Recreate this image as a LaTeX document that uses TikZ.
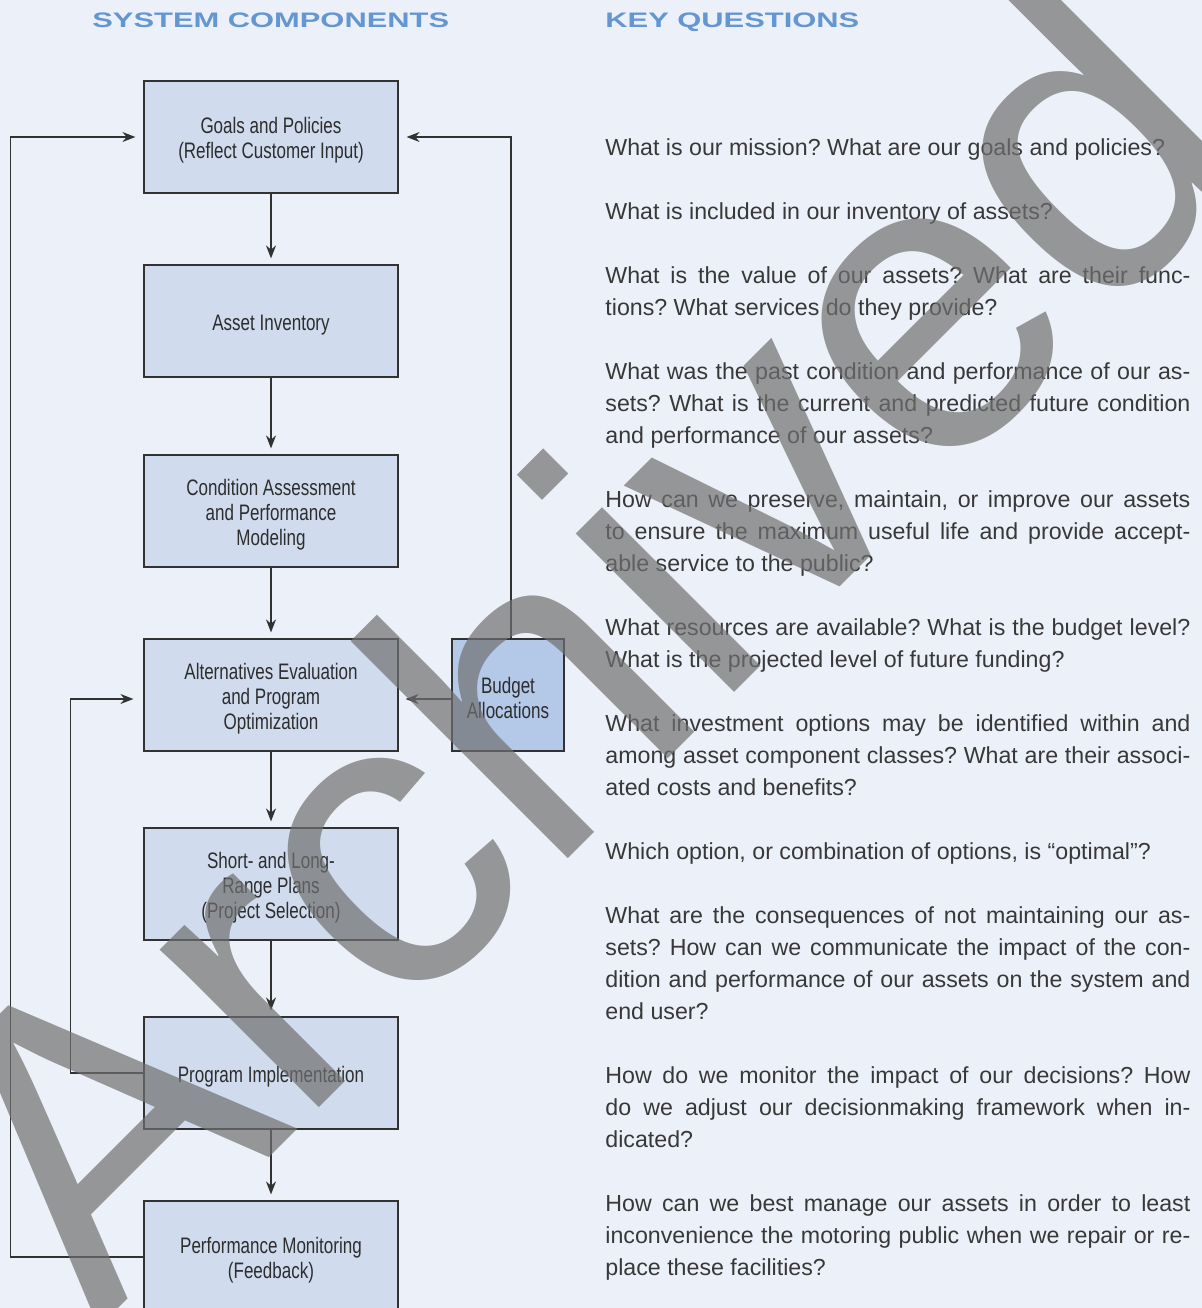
\documentclass[tikz,border=0pt]{standalone}
\usepackage{fontspec}
\setmainfont{Liberation Sans}
\newfontfamily\boxfont[FakeStretch=0.76]{Liberation Sans}
\newfontfamily\headfont[FakeStretch=1.47]{Liberation Sans}
\usetikzlibrary{positioning, arrows.meta, calc}
\definecolor{paper}{RGB}{236,241,249}
\definecolor{boxblue}{RGB}{208,220,238}
\definecolor{budgetblue}{RGB}{180,200,232}
\definecolor{headblue}{RGB}{100,150,210}
\definecolor{wire}{RGB}{50,50,50}
\definecolor{inkgrey}{RGB}{45,45,45}
\definecolor{stamp}{RGB}{112,112,112}
\newcommand{\boxlift}{\rule{0pt}{11.5pt}}

\begin{document}
\begin{tikzpicture}[x=0.5pt, y=-0.5pt,
    comp/.style={rectangle, draw=wire, line width=0.6pt, fill=boxblue, text=inkgrey,
                 minimum width=127pt, minimum height=56pt, align=center,
                 font=\boxfont\fontsize{11.2}{12.5}\selectfont},
    flow/.style={draw=wire, line width=0.6pt, -{Stealth[length=6.5pt, width=5pt]}},
    head/.style={font=\headfont\bfseries\fontsize{10.5}{12}\selectfont, text=headblue,
                 anchor=base west, inner sep=0pt},
    quest/.style={anchor=base west, inner sep=0pt, text width=292.5pt, align=justify,
                  text=black!78, font=\fontsize{11.6}{16}\selectfont\frenchspacing}
  ]
  \useasboundingbox (0,0) rectangle (1202,1308);
  \clip (0,0) rectangle (1202,1308);
  \fill[paper] (0,0) rectangle (1202,1308);

  % --- headings ---
  \node[head] (hsys) at (92,27) {SYSTEM COMPONENTS};
  \node[head] (hkey) at (605,27) {KEY QUESTIONS};

  % --- system components ---
  \foreach \n/\y/\lab in {goals/137/{Goals and Policies\\(Reflect Customer Input)},
                          inv/321/{Asset Inventory},
                          cond/511/{Condition Assessment\\and Performance\\Modeling},
                          alt/695/{Alternatives Evaluation\\and Program\\Optimization},
                          plans/884/{Short- and Long-\\Range Plans\\(Project Selection)},
                          impl/1073/{Program Implementation},
                          perf/1257/{Performance Monitoring\\(Feedback)}} {
      \node[comp] (\n) at (271,\y) {\boxlift\lab};
  }
  \node[comp, fill=budgetblue, minimum width=56pt] (budget) at (508,695) {\boxlift Budget\\Allocations};

  % main chain
  \foreach \a/\b in {goals/inv, inv/cond, cond/alt, alt/plans, plans/impl, impl/perf} {
      \draw[flow, shorten >=3pt] (\a) -- (\b);
  }
  % feedback loops
  \draw[flow, shorten >=4pt] (perf.west) -- ++(-133,0) |- (goals.west);
  \draw[flow, shorten >=5pt] (impl.west) -- ++(-73,0) |- ([yshift=-2pt]alt.west);
  \draw[flow, shorten >=4pt] ([xshift=1.5pt]budget.north) |- (goals.east);
  \draw[flow, shorten >=3.5pt] ([yshift=-2pt]budget.west) -- ([yshift=-2pt]alt.east);

  % --- key questions ---
  \node[quest] (q1) at (605,155) {What is our mission? What are our goals and policies?};
  \node[quest] (q2) at (605,219) {What is included in our inventory of assets?};
  \node[quest] (q3) at (605,283) {What is the value of our assets? What are their func-\linebreak
      tions? What services do they provide?};
  \node[quest] (q4) at (605,379) {What was the past condition and performance of our as-\linebreak
      sets? What is the current and predicted future condition\linebreak
      and performance of our assets?};
  \node[quest] (q5) at (605,507) {How can we preserve, maintain, or improve our assets\linebreak
      to ensure the maximum useful life and provide accept-\linebreak
      able service to the public?};
  \node[quest] (q6) at (605,635) {What resources are available? What is the budget level?\linebreak
      What is the projected level of future funding?};
  \node[quest] (q7) at (605,731) {What investment options may be identified within and\linebreak
      among asset component classes? What are their associ-\linebreak
      ated costs and benefits?};
  \node[quest] (q8) at (605,859) {Which option, or combination of options, is “optimal”?};
  \node[quest] (q9) at (605,923) {What are the consequences of not maintaining our as-\linebreak
      sets? How can we communicate the impact of the con-\linebreak
      dition and performance of our assets on the system and\linebreak
      end user?};
  \node[quest] (q10) at (605,1083) {How do we monitor the impact of our decisions? How\linebreak
      do we adjust our decisionmaking framework when in-\linebreak
      dicated?};
  \node[quest] (q11) at (605,1211) {How can we best manage our assets in order to least\linebreak
      inconvenience the motoring public when we repair or re-\linebreak
      place these facilities?};

  % --- archive stamp ---
  \node[rotate=45, anchor=base west, inner sep=0pt, text=stamp, text opacity=0.7,
        font=\fontsize{212}{212}\selectfont] (stampword) at (98,1329) {Archived};
\end{tikzpicture}
\end{document}
